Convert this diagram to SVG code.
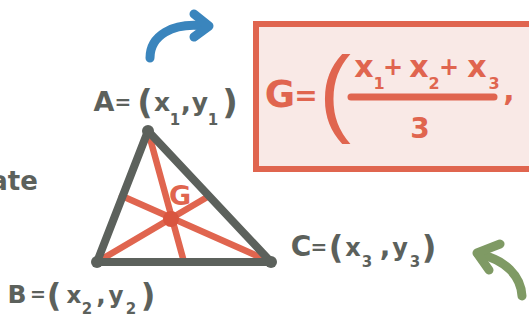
<svg xmlns="http://www.w3.org/2000/svg" width="529" height="320" viewBox="0 0 529 320">
<style>
  text { font-family: "DejaVu Sans", "Liberation Sans", sans-serif; font-weight: bold; text-anchor: middle; }
  .g { fill: #5c615c; }
  .r { fill: #e0654f; }
  .sub { font-size: 15px; }
  .tri { stroke: #5c615c; stroke-width: 8; fill: none; stroke-linejoin: round; stroke-linecap: round; }
  .med { stroke: #e0654f; stroke-width: 6.5; stroke-linecap: round; }
  .arr { fill: none; stroke-width: 9; stroke-linecap: round; stroke-linejoin: round; }
</style>
<rect width="529" height="320" fill="#ffffff"/>

<g id="formula-box">
  <rect x="256" y="24" width="290" height="145" fill="#f9e9e6" stroke="#e0654f" stroke-width="6"/>
  <text class="r" font-size="37" y="107"><tspan x="280">G</tspan><tspan x="306" font-size="28" dy="-2">=</tspan></text>
  <text class="r" font-size="96" y="124" x="335" style="font-weight:normal;font-family:'Liberation Sans',sans-serif">(</text>
  <text class="r" font-size="30" y="77"><tspan x="364">x</tspan><tspan x="393" font-size="24" dy="-2">+</tspan><tspan x="419" dy="2">x</tspan><tspan x="449" font-size="24" dy="-2">+</tspan><tspan x="477" dy="2">x</tspan></text>
  <text class="r" font-size="16" y="89"><tspan x="379">1</tspan><tspan x="434">2</tspan><tspan x="494">3</tspan></text>
  <line x1="351" y1="97" x2="494" y2="97" stroke="#e0654f" stroke-width="7" stroke-linecap="round"/>
  <text class="r" font-size="28" x="420" y="138">3</text>
  <text class="r" font-size="30" x="509" y="101">,</text>
</g>

<g id="label-a">
  <text class="g" font-size="27" y="111"><tspan x="104">A</tspan><tspan x="123" font-size="20" dy="-2">=</tspan><tspan x="145" font-size="34" dy="5">(</tspan><tspan x="162" font-size="25" dy="-3">x</tspan><tspan x="186">,</tspan><tspan x="200" font-size="25">y</tspan><tspan x="230" font-size="34" dy="3">)</tspan></text>
  <text class="g sub" y="125"><tspan x="175">1</tspan><tspan x="213">1</tspan></text>
</g>

<g id="label-b">
  <text class="g" font-size="25" y="303"><tspan x="17">B</tspan><tspan x="38" font-size="19" dy="-2">=</tspan><tspan x="54" font-size="32" dy="5">(</tspan><tspan x="74" font-size="23" dy="-3">x</tspan><tspan x="101">,</tspan><tspan x="116" font-size="23">y</tspan><tspan x="148" font-size="32" dy="3">)</tspan></text>
  <text class="g sub" y="314"><tspan x="87">2</tspan><tspan x="131">2</tspan></text>
</g>

<g id="label-c">
  <text class="g" font-size="28" y="256"><tspan x="301">C</tspan><tspan x="319" font-size="20" dy="-2">=</tspan><tspan x="336" font-size="32" dy="4">(</tspan><tspan x="353" font-size="24" dy="-2">x</tspan><tspan x="385">,</tspan><tspan x="400" font-size="24">y</tspan><tspan x="429" font-size="32" dy="2">)</tspan></text>
  <text class="g sub" y="267"><tspan x="367">3</tspan><tspan x="415">3</tspan></text>
</g>

<g id="word">
  <text class="g" font-size="26" x="14" y="190">ate</text>
</g>

<g id="triangle">
  <line class="med" x1="148" y1="131" x2="184" y2="262"/>
  <line class="med" x1="97" y1="262" x2="209" y2="196"/>
  <line class="med" x1="271" y1="262" x2="122" y2="196"/>
  <polygon class="tri" points="148,131 97,262 271,262"/>
  <circle cx="148" cy="131" r="6" fill="#5c615c"/>
  <circle cx="97" cy="262" r="6" fill="#5c615c"/>
  <circle cx="271" cy="262" r="6" fill="#5c615c"/>
  <circle cx="171" cy="219" r="8" fill="#d9553f"/>
  <text class="r" font-size="27" x="180" y="205">G</text>
</g>

<g id="connectors">
  <path class="arr" stroke="#3a85bd" d="M150,58 C150,36 172,22 205,26"/>
  <path class="arr" stroke="#3a85bd" d="M194,14 L209,26 L194,37"/>
  <path class="arr" stroke="#7f9a64" d="M522,296 C521,276 505,259 478,254"/>
  <path class="arr" stroke="#7f9a64" d="M500,244 L477,253 L489,270"/>
</g>
</svg>
